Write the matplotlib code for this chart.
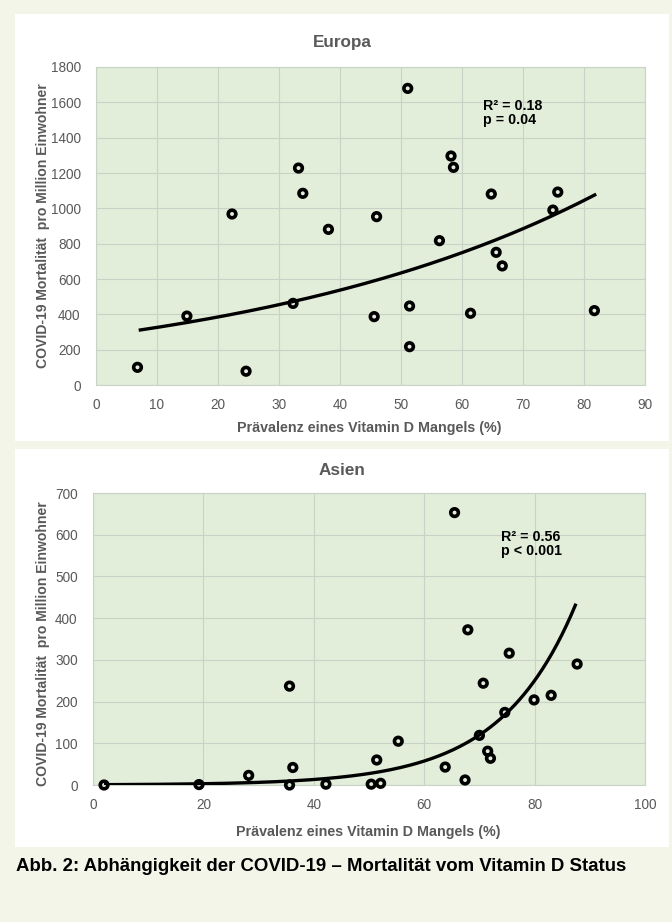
import numpy as np
import matplotlib
matplotlib.use("Agg")
import matplotlib.pyplot as plt
from matplotlib.patches import Rectangle

# ---------------- data ----------------
eu_x = [6.8, 14.9, 22.3, 24.6, 32.3, 33.2, 33.9, 38.1, 45.6, 46.0, 51.1, 51.4, 51.4,
        56.3, 58.2, 58.6, 61.4, 64.8, 65.6, 66.6, 74.9, 75.7, 81.7]
eu_y = [100, 390, 968, 78, 462, 1228, 1085, 881, 387, 953, 1679, 447, 217,
        817, 1296, 1232, 406, 1081, 751, 674, 990, 1092, 421]
eu_trend_a, eu_trend_b = 276, 0.01664
eu_trend_range = [7, 82]

as_x = [2.0, 19.2, 28.2, 35.6, 36.2, 35.6, 42.2, 50.4, 52.1, 51.4, 55.3, 63.8, 65.5,
        67.4, 67.9, 70.0, 70.7, 71.5, 72.0, 74.6, 75.4, 79.9, 83.0, 87.7]
as_y = [0, 1, 23, 237, 42, 0, 2, 2, 4, 60, 105, 43, 653,
        12, 372, 119, 244, 81, 64, 174, 316, 204, 215, 290]
as_trend_a, as_trend_b = 0.694, 0.0736
as_trend_range = [2, 87.5]

eu_xticks = list(range(0, 91, 10))
eu_yticks = list(range(0, 1801, 200))
as_xticks = list(range(0, 101, 20))
as_yticks = list(range(0, 701, 100))

title_eu = "Europa"
title_as = "Asien"
ylabel = "COVID-19 Mortalität  pro Million Einwohner"
xlabel = "Prävalenz eines Vitamin D Mangels (%)"
stats_eu = "R² = 0.18\np = 0.04"
stats_as = "R² = 0.56\np < 0.001"
caption = "Abb. 2: Abhängigkeit der COVID-19 – Mortalität vom Vitamin D Status"

# ---------------- style ----------------
plt.rcParams["font.family"] = ["Liberation Sans", "DejaVu Sans"]

BG = "#f3f5e8"
PLOT_BG = "#e2eed9"
GRID = "#c9d2c6"
TXT = "#595959"

W, H = 672, 922
fig = plt.figure(figsize=(W / 100, H / 100), dpi=100, facecolor=BG)

def px_rect(x0, y0, x1, y1):
    return [x0 / W, 1 - y1 / H, (x1 - x0) / W, (y1 - y0) / H]

# white panels
for (x0, y0, x1, y1) in [(15, 14, 669, 441), (15, 449, 669, 847)]:
    l, b, w, h = px_rect(x0, y0, x1, y1)
    fig.patches.append(Rectangle((l, b), w, h, transform=fig.transFigure,
                                 facecolor="white", edgecolor="none", zorder=-10))

def style_axes(ax, xticks, yticks, xlim, ylim):
    ax.set_facecolor(PLOT_BG)
    ax.set_xlim(*xlim)
    ax.set_ylim(*ylim)
    ax.set_xticks(xticks)
    ax.set_yticks(yticks)
    ax.grid(True, color=GRID, linewidth=0.8)
    ax.set_axisbelow(True)
    for s in ax.spines.values():
        s.set_color(GRID)
        s.set_linewidth(0.8)
    ax.tick_params(length=0, colors=TXT, labelsize=9.8)
    ax.tick_params(axis="y", pad=11)
    ax.tick_params(axis="x", pad=9)

def panel(ax, xs, ys, a, b, rng, stats, stats_xy, title, title_y, ylab_xy, xlab_xy):
    ax.scatter(xs, ys, s=30, facecolors="none", edgecolors="black",
               linewidths=2.6, zorder=3, clip_on=False)
    tx = np.linspace(rng[0], rng[1], 200)
    ax.plot(tx, a * np.exp(b * tx), color="black", linewidth=2.4, zorder=4,
            solid_capstyle="butt")
    ax.text(stats_xy[0], stats_xy[1], stats, fontsize=10.3, fontweight="bold",
            color="black", va="top", ha="left", linespacing=1.05)
    fig.text(342 / W, 1 - title_y / H, title, ha="center", va="center",
             fontsize=12.3, fontweight="bold", color=TXT)
    ax.set_ylabel(ylabel, fontsize=10.1, fontweight="bold", color=TXT)
    ax.yaxis.set_label_coords(*ylab_xy)
    ax.set_xlabel(xlabel, fontsize=10.3, fontweight="bold", color=TXT)
    ax.xaxis.set_label_coords(*xlab_xy)

ax1 = fig.add_axes(px_rect(96, 67, 645, 385))
style_axes(ax1, eu_xticks, eu_yticks, (0, 90), (0, 1800))
panel(ax1, eu_x, eu_y, eu_trend_a, eu_trend_b, eu_trend_range, stats_eu,
      (63.4, 1620), title_eu, 43, (-0.083, 0.5), (0.497, -0.113))

ax2 = fig.add_axes(px_rect(93, 493, 645, 785))
style_axes(ax2, as_xticks, as_yticks, (0, 100), (0, 700))
panel(ax2, as_x, as_y, as_trend_a, as_trend_b, as_trend_range, stats_as,
      (73.9, 612), title_as, 470, (-0.077, 0.483), (0.499, -0.137))

fig.text(16 / W, 1 - 866 / H, caption, ha="left", va="center",
         fontsize=13.4, fontweight="bold", color="black")

fig.savefig("out.png", dpi=100, facecolor=BG)
